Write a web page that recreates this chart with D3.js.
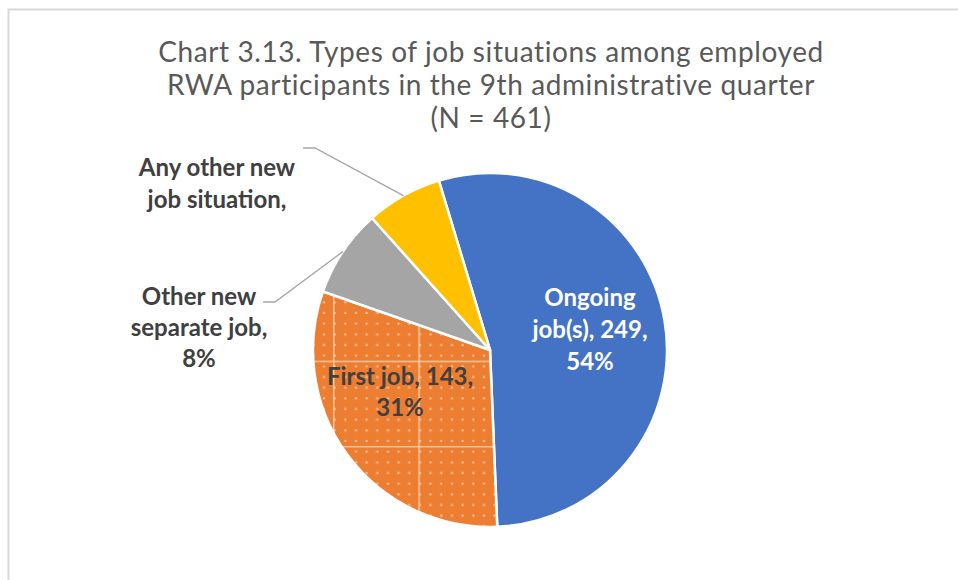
<!DOCTYPE html>
<html>
<head>
<meta charset="utf-8">
<script src="https://cdn.jsdelivr.net/npm/d3@7/dist/d3.min.js"></script>
<style>
  html, body { margin: 0; padding: 0; background: #ffffff; }
  svg { display: block; }
</style>
</head>
<body>
<svg id="chart" width="958" height="580"></svg>
<script>
// Job situations of employed participants, 9th administrative quarter
const categories = ["Ongoing job(s)", "First job", "Other new separate job", "Any other new job situation"];
const counts = [249, 143, 37, 32];
const percents = [54, 31, 8, 7];
const colors = ["#4472C4", "#ED7D31", "#A5A5A5", "#FFC000"];
const labelLines = [
  ["Ongoing", "job(s), 249,", "54%"],
  ["First job, 143,", "31%"],
  ["Other new", "separate job,", "8%"],
  ["Any other new", "job situation,"]
];
const titleLines = [
  "Chart 3.13. Types of job situations among employed",
  "RWA participants in the 9th administrative quarter",
  "(N = 461)"
];

const W = 958, H = 580;
const cx = 490, cy = 350, R = 177;
const startDeg = -16.8;
const fontFamily = "Lato, 'Open Sans', 'Liberation Sans', sans-serif";

const svg = d3.select("#chart");

// chart area frame
svg.append("rect")
  .attr("x", 8.5).attr("y", 9.5)
  .attr("width", W + 20).attr("height", H + 20)
  .attr("fill", "#ffffff")
  .attr("stroke", "#d9d9d9").attr("stroke-width", 2);

// dotted-grid fill for the "First job" slice
const tile = 85.33, step = tile / 8;
const defs = svg.append("defs");
const pat = defs.append("pattern")
  .attr("id", "dottedGrid")
  .attr("patternUnits", "userSpaceOnUse")
  .attr("x", cx - 135).attr("y", cy + 2)
  .attr("width", tile).attr("height", tile);
pat.append("rect").attr("width", tile).attr("height", tile).attr("fill", colors[1]);
pat.append("rect").attr("x", 0).attr("y", 0).attr("width", 1.4).attr("height", tile)
  .attr("fill", "#f9d9bf").attr("opacity", 0.85);
pat.append("rect").attr("x", 0).attr("y", 0).attr("width", tile).attr("height", 1.4)
  .attr("fill", "#f9d9bf").attr("opacity", 0.85);
for (let i = 0; i < 8; i++) {
  for (let j = 0; j < 8; j++) {
    pat.append("circle")
      .attr("cx", 1.6 + i * step).attr("cy", 5.6 + j * step)
      .attr("r", 1.2)
      .attr("fill", "#fbe0cb").attr("opacity", 0.7);
  }
}

// title
const title = svg.append("text")
  .attr("text-anchor", "middle")
  .attr("font-family", fontFamily)
  .attr("font-size", 28)
  .attr("letter-spacing", 0.6)
  .attr("fill", "#595959");
titleLines.forEach((t, i) => {
  title.append("tspan").attr("x", 491).attr("y", 62 + i * 33).text(t);
});

// pie
const rows = categories.map((c, i) => ({ category: c, count: counts[i], pct: percents[i], i }));
const toRad = d => d * Math.PI / 180;
const pie = d3.pie()
  .value(d => d.count)
  .sort(null)
  .startAngle(toRad(startDeg))
  .endAngle(toRad(startDeg) + 2 * Math.PI);
const arcs = pie(rows);
const arc = d3.arc().innerRadius(0).outerRadius(R);
const edgeArc = d3.arc().innerRadius(R).outerRadius(R);

const g = svg.append("g").attr("transform", `translate(${cx},${cy})`);
g.selectAll("path.slice")
  .data(arcs)
  .join("path")
  .attr("class", "slice")
  .attr("d", arc)
  .attr("fill", d => d.data.i === 1 ? "url(#dottedGrid)" : colors[d.data.i])
  .attr("stroke", "#ffffff")
  .attr("stroke-width", 2.5)
  .attr("stroke-linejoin", "round");

// label layout: anchor of each label block relative to the pie centre,
// and for outside labels the elbow where the leader line starts
const labelLayout = [
  { dx: 100, dy: -44, lh: 32, fill: "#ffffff" },
  { dx: -90, dy: 35, lh: 31, fill: "#404040" },
  { dx: -291, dy: -45, lh: 31, fill: "#404040", leader: [[-227, -48], [-215, -48]] },
  { dx: -273, dy: -174, lh: 32, fill: "#404040", leader: [[-187, -202], [-175, -202]] }
];

const labels = svg.append("g")
  .attr("font-family", fontFamily)
  .attr("font-weight", "bold")
  .attr("font-size", 24)
  .attr("text-anchor", "middle");

arcs.forEach(a => {
  const L = labelLayout[a.data.i];
  if (L.leader) {
    const tip = edgeArc.centroid(a);
    const pts = L.leader.concat([tip]).map(p => [cx + p[0], cy + p[1]]);
    svg.append("path")
      .attr("d", d3.line()(pts))
      .attr("fill", "none")
      .attr("stroke", "#a6a6a6")
      .attr("stroke-width", 1.3);
  }
  const t = labels.append("text").attr("fill", L.fill);
  labelLines[a.data.i].forEach((line, k) => {
    t.append("tspan")
      .attr("x", cx + L.dx)
      .attr("y", cy + L.dy + k * L.lh)
      .text(line);
  });
});
</script>
</body>
</html>
